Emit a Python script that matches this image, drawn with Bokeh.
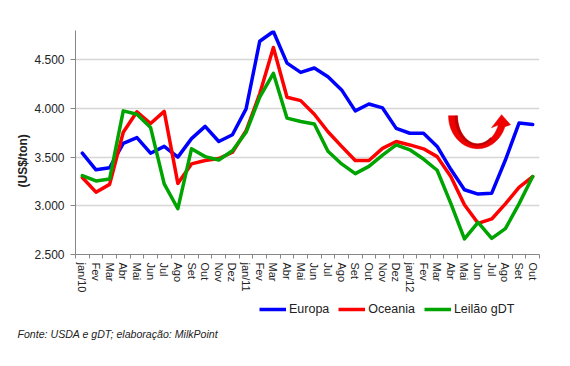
import numpy as np
from bokeh.plotting import figure
from bokeh.layouts import column
from bokeh.models import Range1d, FixedTicker, Legend, LegendItem, Title
from bokeh.embed import file_html
from bokeh.resources import INLINE

# ---------------- data ----------------
months = ["jan/10", "Fev", "Mar", "Abr", "Mai", "Jun", "Jul", "Ago", "Set", "Out", "Nov", "Dez",
          "jan/11", "Fev", "Mar", "Abr", "Mai", "Jun", "Jul", "Ago", "Set", "Out", "Nov", "Dez",
          "jan/12", "Fev", "Mar", "Abr", "Mai", "Jun", "Jul", "Ago", "Set", "Out"]
europa = [3540, 3370, 3390, 3640, 3700, 3540, 3610, 3500, 3690, 3815, 3660, 3730,
          3995, 4690, 4790, 4465, 4370, 4415, 4325, 4190, 3975, 4045, 4005, 3795,
          3745, 3745, 3610, 3375, 3165, 3120, 3130, 3470, 3850, 3835]
oceania = [3290, 3140, 3220, 3755, 3965, 3845, 3970, 3230, 3430, 3465, 3485, 3550,
           3770, 4150, 4625, 4115, 4080, 3940, 3760, 3610, 3465, 3465, 3590, 3660,
           3625, 3585, 3505, 3300, 3010, 2820, 2865, 3020, 3190, 3300]
leilao = [3310, 3255, 3275, 3975, 3940, 3805, 3225, 2970, 3585, 3505, 3470, 3565,
          3755, 4115, 4360, 3900, 3865, 3840, 3560, 3430, 3330, 3405, 3520, 3625,
          3575, 3480, 3365, 3025, 2660, 2830, 2665, 2765, 3020, 3300]
series_names = ["Europa", "Oceania", "Leilão gDT"]
y_ticks = [2500, 3000, 3500, 4000, 4500]
y_min, y_max = 2500, 4800
source_text = "Fonte: USDA e gDT; elaboração: MilkPoint"
y_title = "(US$/ton)"

# ---------------- layout ----------------
W, H = 562, 296
H2 = 62
BL, BR, BT, BB = 75, 23, 30, 42
FONT = "Liberation Sans"
colors = ["#0000ff", "#ff0000", "#00a400"]
LW = 3.5

x = list(range(len(months)))
p = figure(width=W, height=H, output_backend="svg", toolbar_location=None,
           x_range=Range1d(-0.5, len(months) - 0.5), y_range=Range1d(y_min, y_max),
           min_border_left=BL, min_border_right=BR, min_border_top=BT, min_border_bottom=BB)
p.outline_line_color = None
p.background_fill_color = "white"
p.border_fill_color = "white"

# grid
p.xgrid.visible = False
p.ygrid.ticker = FixedTicker(ticks=y_ticks[1:])
p.ygrid.grid_line_color = "#d6d6d6"
p.ygrid.grid_line_width = 1.5

# y axis
p.yaxis.ticker = FixedTicker(ticks=y_ticks)
p.yaxis.major_label_overrides = {t: f"{t:,}".replace(",", ".") for t in y_ticks}
p.yaxis.major_tick_out = 5
p.yaxis.major_tick_in = 0
p.yaxis.minor_tick_line_color = None
p.yaxis.axis_line_color = "#868686"
p.yaxis.major_tick_line_color = "#868686"
p.yaxis.major_label_text_font = FONT
p.yaxis.major_label_text_font_size = "12px"
p.yaxis.major_label_text_color = "#222222"
p.yaxis.major_label_standoff = 6

# x axis
p.xaxis.ticker = FixedTicker(ticks=x, minor_ticks=[i - 0.5 for i in range(len(months) + 1)])
p.xaxis.major_label_overrides = {i: m for i, m in enumerate(months)}
p.xaxis.major_tick_line_color = None
p.xaxis.major_tick_out = 0
p.xaxis.major_tick_in = 0
p.xaxis.minor_tick_out = 4
p.xaxis.minor_tick_in = 0
p.xaxis.minor_tick_line_color = "#868686"
p.xaxis.axis_line_color = "#868686"
p.xaxis.major_label_orientation = "vertical"
p.xaxis.major_label_text_font = FONT
p.xaxis.major_label_text_font_size = "11px"
p.xaxis.major_label_text_color = "#222222"
p.xaxis.major_label_standoff = 4

# lines
for vals, c in zip([europa, oceania, leilao], colors):
    p.line(x, vals, line_color=c, line_width=LW, line_join="round", line_cap="round")

# curved arrow decoration (defined in pixel offsets, converted to data space)
frame_w = W - BL - BR
frame_h = H - BT - BB
px_per_cat = frame_w / len(months)
units_per_px = (y_max - y_min) / frame_h
ARROW_X, ARROW_Y = 28.96, 3925


def to_data(xs, ys):
    return (ARROW_X + np.asarray(xs) / px_per_cat).tolist(), (ARROW_Y - np.asarray(ys) * units_per_px).tolist()


t_end = 2 * np.pi - 0.34
t = np.linspace(np.pi, t_end, 60)
ox, oy = 29 * np.cos(t), -33 * np.sin(t)
ia = np.where(np.cos(t) < 0, 20, 22)
ix, iy = ia * np.cos(t), -28 * np.sin(t)
head_x = [33, 24, 14]
head_y = [9, -1, 12]
px = list(ox) + head_x + list(ix[::-1])
py = list(oy) + head_y + list(iy[::-1])
ax_, ay_ = to_data(px, py)
p.patch(ax_, ay_, fill_color="#f00000", line_color="#e00000", line_width=0.5)
t2 = np.linspace(np.pi, 1.72 * np.pi, 40)
mx, my = 23 * np.cos(t2), -30 * np.sin(t2)
sx, sy = 20 * np.cos(t2), -28 * np.sin(t2)
dx, dy = to_data(list(mx) + list(sx[::-1]), list(my) + list(sy[::-1]))
p.patch(dx, dy, fill_color="#b00000", fill_alpha=0.8, line_color=None)

# y title
p.add_layout(Title(text=y_title, align="left", offset=67, standoff=4,
                   text_font=FONT, text_font_size="12px", text_font_style="bold",
                   text_color="#222222"), "left")

# ---------------- footer: legend + source ----------------
f = figure(width=W, height=H2, output_backend="svg", toolbar_location=None,
           x_range=Range1d(0, 1), y_range=Range1d(0, 1),
           x_axis_location=None, y_axis_location=None,
           min_border_left=0, min_border_right=0, min_border_top=0, min_border_bottom=33)
f.grid.visible = False
f.outline_line_color = None
f.border_fill_color = "white"
proxies = [f.line([-10, -9], [-10, -10], line_color=c, line_width=LW) for c in colors]
legend = Legend(items=[LegendItem(label=n, renderers=[r]) for n, r in zip(series_names, proxies)],
                orientation="horizontal", location=(184, 9), padding=0, margin=0,
                spacing=9, label_standoff=3, glyph_width=27, glyph_height=14, label_height=14,
                label_text_font=FONT, label_text_font_size="12.5px", label_text_color="#222222",
                background_fill_alpha=0, border_line_color=None)
f.add_layout(legend, "center")
f.add_layout(Title(text=source_text, align="left", offset=-58, standoff=0,
                   text_font=FONT, text_font_size="10.6px", text_font_style="italic",
                   text_color="#222222"), "below")

open("out.html", "w").write(file_html(column(p, f, spacing=0), INLINE))
